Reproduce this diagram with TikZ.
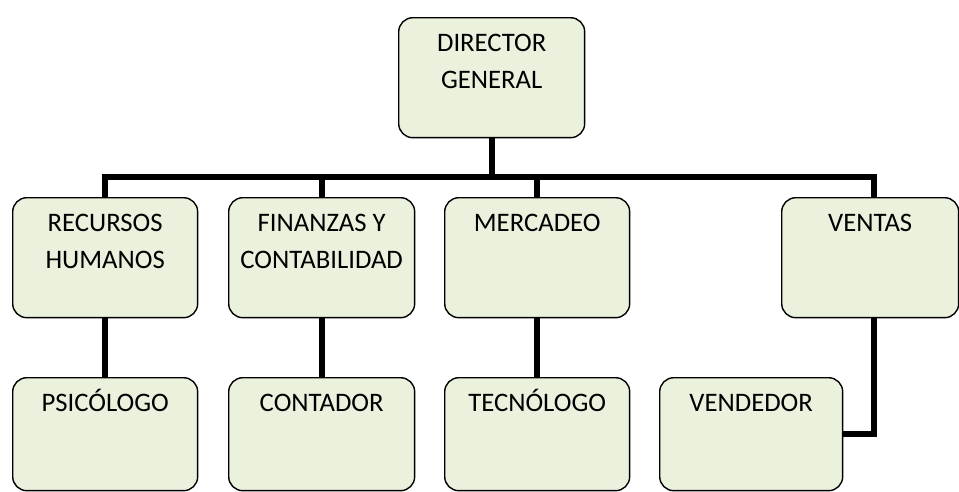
\documentclass[tikz,border=0pt]{standalone}
\usepackage{fontspec}
\setmainfont{Carlito}
\definecolor{boxgreen}{HTML}{EAF1DD}
\begin{document}
\begin{tikzpicture}
[
    x=0.02cm, y=-0.02cm,
    font=\fontsize{15.2}{21}\selectfont,
    unit/.style={draw, line width=0.8pt, fill=boxgreen, rounded corners=8pt,
        inner sep=0pt, anchor=north west, minimum height=#1,
        execute at begin node={\begin{minipage}[t][#1][t]{3.5cm}\centering\rule{0pt}{19.3pt}},
        execute at end node={\end{minipage}}},
    link/.style={line width=3.4pt, line join=miter},
]
\useasboundingbox (0,0) rectangle (959,491);
\coordinate (bar) at (0,177);
\node[unit=2.4cm, minimum width=3.72cm] (dir) at (398,17) {DIRECTOR\\GENERAL};
\node[unit=2.4cm, minimum width=3.7cm] (rh) at (12,197) {RECURSOS\\HUMANOS};
\node[unit=2.4cm, minimum width=3.72cm] (fc) at (228,197) {FINANZAS Y\\CONTABILIDAD};
\node[unit=2.4cm, minimum width=3.7cm] (me) at (444,197) {MERCADEO};
\node[unit=2.4cm, minimum width=3.54cm] (ve) at (781,197) {VENTAS};
\node[unit=2.26cm, minimum width=3.7cm] (ps) at (12,377) {PSICÓLOGO};
\node[unit=2.26cm, minimum width=3.72cm] (co) at (228,377) {CONTADOR};
\node[unit=2.26cm, minimum width=3.7cm] (te) at (444,377) {TECNÓLOGO};
\node[unit=2.26cm, minimum width=3.66cm] (vd) at (659,377) {VENDEDOR};
\draw[link] (dir.south) -- (dir.south |- bar);
\draw[link] (rh.north) -- (rh.north |- bar) -- ([xshift=0.07cm]ve.north |- bar) -- ([xshift=0.07cm]ve.north);
\draw[link] (fc.north) -- (fc.north |- bar);
\draw[link] (me.north) -- (me.north |- bar);
\draw[link] (rh.south) -- (ps.north);
\draw[link] (fc.south) -- (co.north);
\draw[link] (me.south) -- (te.north);
\draw[link] ([xshift=0.07cm]ve.south) |- (vd.east);
\end{tikzpicture}
\end{document}
